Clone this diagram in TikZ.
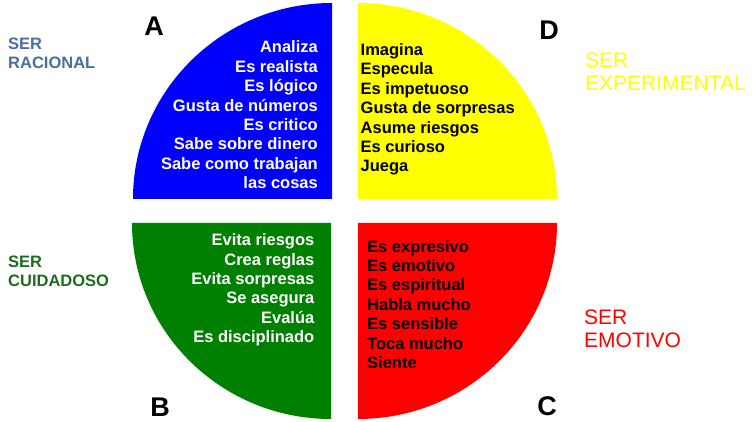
\documentclass[tikz,border=0pt]{standalone}
\usepackage{fontspec}
\setmainfont{Liberation Sans}
\definecolor{qblue}{RGB}{0,0,255}
\definecolor{qyellow}{RGB}{255,255,0}
\definecolor{qgreen}{RGB}{0,128,0}
\definecolor{qred}{RGB}{255,0,0}
\definecolor{racional}{RGB}{72,112,158}
\definecolor{cuidadoso}{RGB}{28,108,28}
\begin{document}
\begin{tikzpicture}[x=1pt,y=-1pt,
  quad/.style={draw=none},
  listtext/.style={font=\fontsize{16.5}{19.4}\selectfont\bfseries, inner sep=0pt},
  letter/.style={font=\fontsize{27}{30}\selectfont\bfseries, inner sep=0pt},
  leftlabel/.style={font=\fontsize{16.5}{18.5}\selectfont\bfseries, inner sep=0pt, align=left, anchor=north west},
  rightlabel/.style={font=\fontsize{21}{22.6}\selectfont, inner sep=0pt, align=left, anchor=north west}]
\useasboundingbox (0,0) rectangle (755,422);
\fill[white] (0,0) rectangle (755,422);
% quadrants
\fill[qblue] (332,199) -- (332,3) arc[start angle=-90, end angle=-180, x radius=199, y radius=196] -- cycle;
\fill[qyellow] (358,199) -- (358,3) arc[start angle=-90, end angle=0, x radius=199, y radius=196] -- cycle;
\fill[qgreen] (331,223) -- (331,419) arc[start angle=90, end angle=180, x radius=199, y radius=196] -- cycle;
\fill[qred] (358,223) -- (358,419) arc[start angle=90, end angle=0, x radius=199, y radius=196] -- cycle;
% lists
\node[listtext, white, align=right, anchor=east] (la) at (318,115)
  {Analiza\\Es realista\\Es lógico\\Gusta de números\\Es critico\\Sabe sobre dinero\\Sabe como trabajan\\las cosas};
\node[listtext, black, align=left, anchor=west] (ld) at (360.5,109.5)
  {Imagina\\Especula\\Es impetuoso\\Gusta de sorpresas\\Asume riesgos\\Es curioso\\Juega};
\node[listtext, white, align=right, anchor=east] (lb) at (314.5,290)
  {Evita riesgos\\Crea reglas\\Evita sorpresas\\Se asegura\\Evalúa\\Es disciplinado};
\node[listtext, black, align=left, anchor=west] (lc) at (367,304.5)
  {Es expresivo\\Es emotivo\\Es espiritual\\Habla mucho\\Es sensible\\Toca mucho\\Siente};
% letters
\node[letter] (A) at (154,26) {A};
\node[letter] (D) at (549,30) {D};
\node[letter] (B) at (160,407) {B};
\node[letter] (C) at (547,406) {C};
% side labels
\node[leftlabel, racional] (sr) at (8,38) {SER\\RACIONAL};
\node[leftlabel, cuidadoso] (sc) at (8,256) {SER\\CUIDADOSO};
\node[rightlabel, qyellow] (se) at (585,53) {SER\\EXPERIMENTAL};
\node[rightlabel, qred] (sm) at (584,310) {SER\\EMOTIVO};
\end{tikzpicture}
\end{document}
